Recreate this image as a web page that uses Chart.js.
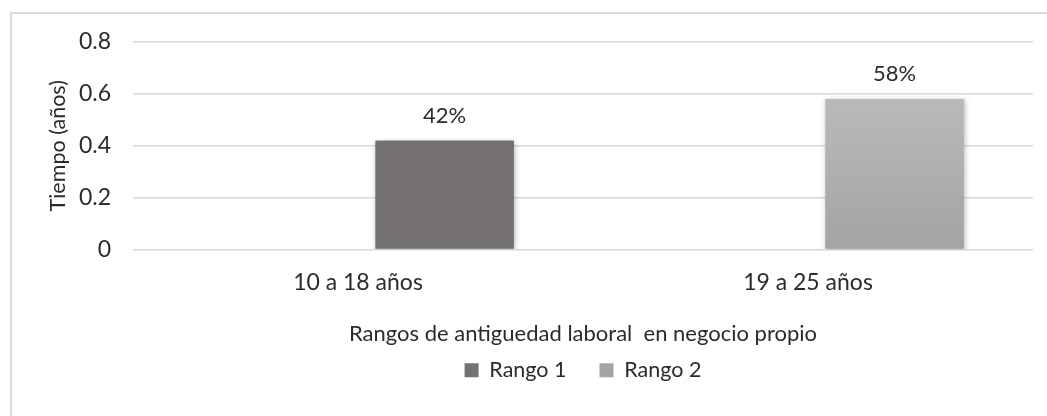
<!DOCTYPE html>
<html>
<head>
<meta charset="utf-8">
<script src="https://cdn.jsdelivr.net/npm/chart.js@4"></script>
<style>
  html, body { margin: 0; padding: 0; background: #fff; overflow: hidden; }
  #frame { position: absolute; left: 10px; top: 12px; width: 1100px; height: 500px;
           border: 2px solid #d9d9d9; box-sizing: border-box; }
  #chart { position: absolute; left: 0; top: 0; }
</style>
</head>
<body>
<div id="frame"></div>
<canvas id="chart" width="1047" height="416"></canvas>
<script>
// datos
const categories = ["10 a 18 años", "19 a 25 años"];
const seriesNames = ["Rango 1", "Rango 2"];
const rango1 = [0.42, null];
const rango2 = [null, 0.58];
const emptySeries = [null, null];
const yTicks = [0, 0.2, 0.4, 0.6, 0.8];
const yTitle = "Tiempo (años)";
const xTitle = "Rangos de antiguedad laboral  en negocio propio";

const FONT = "Lato";
const TXT = "#2b2b2b";

function rango2Fill(ctx) {
  const area = ctx.chart.chartArea;
  if (!area) return "#b4b4b4";
  const g = ctx.chart.ctx.createLinearGradient(0, area.top, 0, area.bottom);
  g.addColorStop(0, "#c2c2c2");
  g.addColorStop(1, "#a4a4a4");
  return g;
}

// sombra suave de las barras + etiquetas de porcentaje
const barExtras = {
  id: "barExtras",
  beforeDatasetsDraw(chart) {
    const c = chart.ctx;
    c.save();
    c.shadowColor = "rgba(0,0,0,0.28)";
    c.shadowBlur = 5;
    c.shadowOffsetX = 1;
    c.shadowOffsetY = 1;
  },
  afterDatasetsDraw(chart) {
    const c = chart.ctx;
    c.restore();
    c.save();
    c.font = "22px " + FONT;
    c.fillStyle = TXT;
    c.textAlign = "center";
    c.textBaseline = "middle";
    chart.data.datasets.forEach((ds, i) => {
      const meta = chart.getDatasetMeta(i);
      meta.data.forEach((bar, j) => {
        const v = ds.data[j];
        if (v === null || v === undefined) return;
        c.fillText(Math.round(v * 100) + "%", bar.x, bar.y - 25);
      });
    });
    c.restore();
  }
};

const chart = new Chart(document.getElementById("chart").getContext("2d"), {
  type: "bar",
  data: {
    labels: categories,
    datasets: [
      { label: "", data: emptySeries, stack: "a", backgroundColor: "rgba(0,0,0,0)" },
      { label: seriesNames[0], data: rango1, stack: "b", backgroundColor: "#767171" },
      { label: seriesNames[1], data: rango2, stack: "b", backgroundColor: rango2Fill }
    ]
  },
  options: {
    responsive: false,
    devicePixelRatio: 1,
    animation: false,
    categoryPercentage: 0.77,
    barPercentage: 0.8,
    layout: { padding: { left: 20, right: 14, top: 42, bottom: 25 } },
    plugins: {
      legend: {
        position: "bottom",
        fullSize: false,
        labels: {
          font: { family: FONT, size: 21.5 },
          color: TXT,
          boxWidth: 14,
          boxHeight: 14,
          padding: 33,
          filter: item => item.text !== ""
        }
      },
      tooltip: { enabled: false }
    },
    scales: {
      x: {
        afterFit: s => { s.height = 77; },
        grid: { display: false, drawTicks: false },
        border: { display: false },
        ticks: { font: { family: FONT, size: 23 }, color: TXT, padding: 19 },
        title: {
          display: true,
          text: xTitle,
          font: { family: FONT, size: 22 },
          color: TXT,
          padding: { top: 0, bottom: -21 }
        }
      },
      y: {
        min: 0,
        max: 0.8,
        afterBuildTicks: s => { s.ticks = yTicks.map(v => ({ value: v })); },
        afterFit: s => { s.width = 113; },
        grid: { color: "#d9d9d9", lineWidth: 1.5, drawTicks: false },
        border: { display: false },
        ticks: {
          font: { family: FONT, size: 23 },
          color: TXT,
          padding: 22,
          callback: v => String(Math.round(v * 10) / 10)
        },
        title: {
          display: true,
          text: yTitle,
          font: { family: FONT, size: 21.5 },
          color: TXT,
          padding: { top: 25, bottom: 0 }
        }
      }
    }
  },
  plugins: [barExtras]
});
</script>
</body>
</html>
